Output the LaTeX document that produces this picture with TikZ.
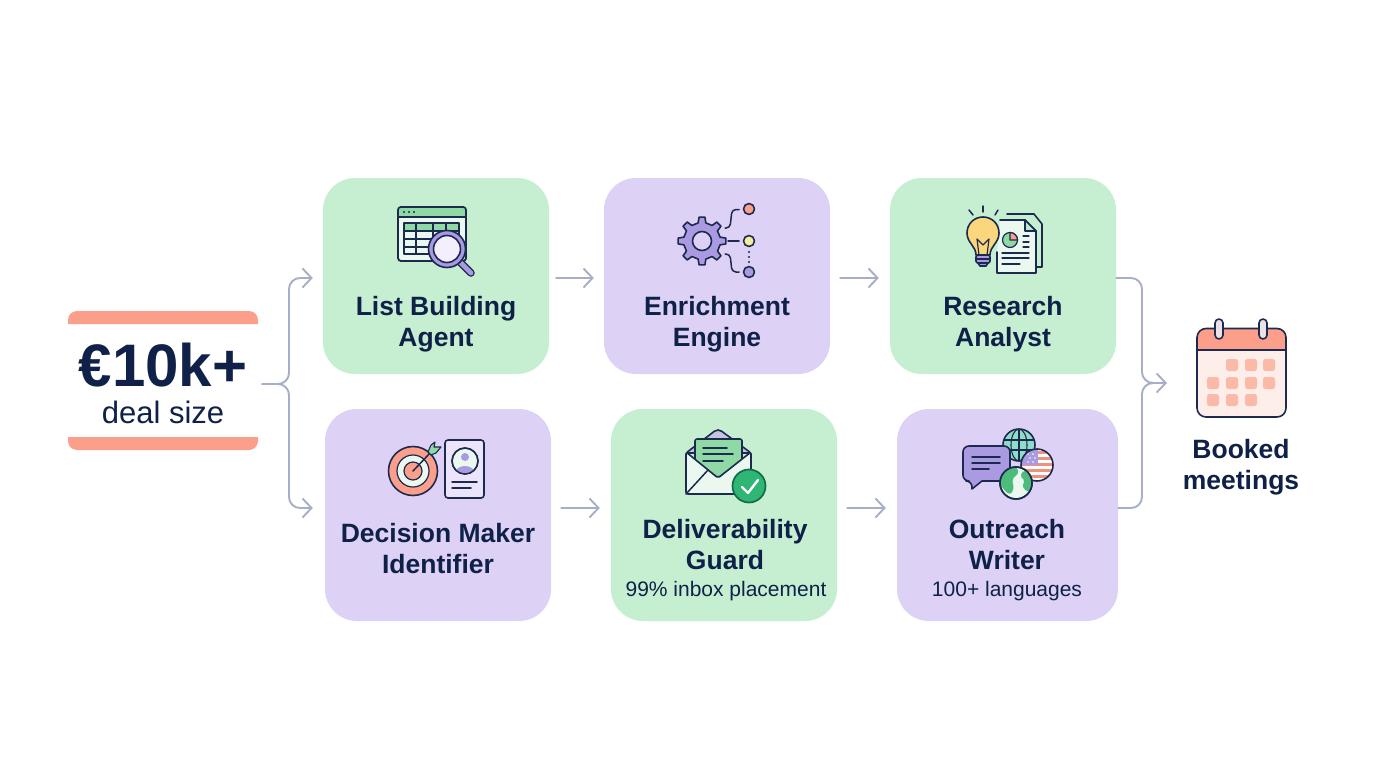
\documentclass[tikz,border=0pt]{standalone}
\usepackage{fontspec}
\setmainfont{Liberation Sans}
\usetikzlibrary{arrows.meta}
\definecolor{navy}{HTML}{0F2148}
\definecolor{ink}{HTML}{1B2A4E}
\definecolor{cgreen}{HTML}{C6EFD2}
\definecolor{cpurple}{HTML}{DDD2F6}
\definecolor{salmon}{HTML}{FB9F8B}
\definecolor{calbody}{HTML}{FDEEE9}
\definecolor{calcell}{HTML}{FBB9A8}
\definecolor{conncol}{HTML}{A6AEC8}
\definecolor{igreen}{HTML}{8FD9A5}
\definecolor{dgreen}{HTML}{4DBB7A}
\definecolor{ipurple}{HTML}{A99AE2}
\definecolor{pale}{HTML}{EAF8F0}
\definecolor{bulb}{HTML}{FBD67D}
\definecolor{dot2}{HTML}{F3EE9B}
\definecolor{flap}{HTML}{C5C3E0}
\definecolor{teal}{HTML}{8FDCC8}
\definecolor{flagred}{HTML}{F0907F}
\definecolor{okfill}{HTML}{2FB574}
\definecolor{okline}{HTML}{146B4A}
\tikzset{
  card/.style={minimum width=#1,inner sep=0pt,rounded corners=32pt},
  gcard/.style={card=226pt,fill=cgreen},
  pcard/.style={card=226pt,fill=cpurple},
  title/.style={text=navy,align=center,font=\bfseries\fontsize{26.5}{31}\selectfont,inner sep=0pt},
  sub/.style={text=navy,font=\fontsize{21}{25}\selectfont,inner sep=0pt},
  conn/.style={draw=conncol,line width=1.9pt,line cap=round,-{Straight Barb[length=9pt,width=19pt]}},
  wire/.style={draw=conncol,line width=1.9pt,line cap=round},
  ic/.style={draw=ink,line width=1.6pt,line join=round,line cap=round},
  ln/.style={draw=ink,line width=1.5pt,line cap=round}
}
\begin{document}
\begin{tikzpicture}[x=1pt,y=-1pt]
\useasboundingbox (0,0) rectangle (1376,768);
\fill[white] (0,0) rectangle (1376,768);
% cards
\node[gcard,minimum height=196pt] (A) at (436,276) {};
\node[pcard,minimum height=196pt] (B) at (717,276) {};
\node[gcard,minimum height=196pt] (C) at (1003,276) {};
\node[pcard,minimum height=212pt] (D) at (438,515) {};
\node[gcard,minimum height=212pt] (E) at (724,515) {};
\node[card=221pt,fill=cpurple,minimum height=212pt] (F) at (1007.5,515) {};
% deal
\node[minimum width=190pt,minimum height=146pt,inner sep=0pt] (deal) at (163,384) {};
\fill[salmon] (68,324) [rounded corners=9pt] -- (68,311) -- (258,311) [sharp corners] -- (258,324) -- cycle;
\fill[salmon] (68,437) [rounded corners=9pt] -- (68,450) -- (258,450) [sharp corners] -- (258,437) -- cycle;
\node[text=navy,font=\bfseries\fontsize{60}{64}\selectfont,inner sep=0pt] (dealv) at (163,365) {€10k+};
\node[text=navy,font=\fontsize{31}{34}\selectfont,inner sep=0pt] (dealt) at (163,412) {deal size};
% labels
\node[title] (tA) at (436,324.5) {List Building\\Agent};
\node[title] (tB) at (717,324.5) {Enrichment\\Engine};
\node[title] (tC) at (1003,324.5) {Research\\Analyst};
\node[title] (tD) at (438,549) {Decision Maker\\Identifier};
\node[title] (tE) at (725,545) {Deliverability\\Guard};
\node[sub] (sE) at (726,591) {99\% inbox placement};
\node[title] (tF) at (1007,545) {Outreach\\Writer};
\node[sub] (sF) at (1007,591) {100+ languages};
\node[title] (tG) at (1241,467) {Booked\\meetings};
% calendar
\node[minimum width=89pt,minimum height=89pt,inner sep=0pt] (cal) at (1241.5,373) {};
\fill[calbody,rounded corners=9pt] (1197,328.5) rectangle (1286,417);
\fill[salmon] (1197,350) [rounded corners=9pt] -- (1197,328.5) -- (1286,328.5) [sharp corners] -- (1286,350) -- cycle;
\draw[ic,rounded corners=9pt] (1197,328.5) rectangle (1286,417);
\draw[ic] (1197,350) -- (1286,350);
\foreach \cx in {1219,1263} \draw[ic,fill=calbody!70!flap,rounded corners=4pt] (\cx-4,319) rectangle (\cx+4,339);
\foreach \cx/\cy in {1232/365,1251/365,1269/365,1213/383,1232/383,1251/383,1269/383,1213/400,1232/400,1251/400}
  \fill[calcell,rounded corners=2.5pt] (\cx-6,\cy-6) rectangle (\cx+6,\cy+6);
% connectors
\draw[conn,rounded corners=11pt,shorten <=4pt,shorten >=10pt] (deal.east) -- (289,384) |- ([yshift=-2pt]A.west);
\draw[conn,rounded corners=11pt,shorten <=4pt,shorten >=12pt] (deal.east) -- (289,384) |- ([yshift=7pt]D.west);
\draw[conn,shorten <=7pt,shorten >=10pt] ([yshift=-2pt]A.east) -- ([yshift=-2pt]B.west);
\draw[conn,shorten <=10pt,shorten >=11pt] ([yshift=-2pt]B.east) -- ([yshift=-2pt]C.west);
\draw[conn,shorten <=10pt,shorten >=11pt] ([yshift=7pt]D.east) -- ([yshift=7pt]E.west);
\draw[conn,shorten <=10pt,shorten >=11pt] ([yshift=7pt]E.east) -- ([yshift=7pt]F.west);
\draw[wire,rounded corners=11pt] ([yshift=7pt]F.east) -| (1142,383) -- (1160,383);
\draw[conn,rounded corners=11pt,shorten >=30pt] ([yshift=-2pt]C.east) -| (1142,383) -- (1197,383);
% icon: list building
\draw[ic,fill=pale,rounded corners=3pt] (398,207) rectangle (466,261);
\fill[igreen,rounded corners=2pt] (398,207) rectangle (466,217);
\draw[ic,rounded corners=3pt] (398,207) rectangle (466,261);
\draw[ic] (398,217) -- (466,217);
\foreach \dx in {404,409,414} \fill[ink] (\dx,212) circle[radius=1.1pt];
\fill[igreen] (404,223) rectangle (459,231);
\draw[ic,line width=1.2pt] (404,223) rectangle (459,254);
\foreach \yy in {231,239,247} \draw[ic,line width=1.2pt] (404,\yy) -- (459,\yy);
\foreach \xx in {416,433,446} \draw[ic,line width=1.2pt] (\xx,223) -- (\xx,254);
\draw[draw=ink,line width=7.5pt,line cap=round] (458,260) -- (471,273);
\draw[draw=ipurple,line width=4.8pt,line cap=round] (458,260) -- (471,273);
\draw[ic,fill=ipurple] (447,249) circle[radius=18.5pt];
\draw[ic,fill=cpurple!35!white] (447,249) circle[radius=13.5pt];
% icon: enrichment
\begin{scope}[shift={(702,241)}]
\draw[ic,fill=ipurple] (-34:18.5) \foreach \a in {0,45,...,315} { -- ({\a-12}:18.5) -- ({\a-7}:24) -- ({\a+7}:24) -- ({\a+12}:18.5) -- ({\a+33}:18.5) } -- cycle;
\draw[ic,fill=cpurple] (0,0) circle[radius=9.5pt];
\end{scope}
\draw[ln,rounded corners=4pt] (725,228) -- (730,228) -- (732,209.5) -- (739,209.5);
\draw[ln] (728,241) -- (739,241);
\draw[ln,rounded corners=4pt] (725,254) -- (730,254) -- (732,272) -- (739,272);
\draw[ic,fill=salmon] (749,209) circle[radius=5.5pt];
\draw[ic,fill=dot2] (749,241) circle[radius=5.5pt];
\draw[ic,fill=ipurple] (749,272) circle[radius=5.5pt];
\foreach \yy in {252,257,262} \fill[ink] (749,\yy) circle[radius=1.1pt];
% icon: research
\draw[ic] (1007,214) -- (1034,214) -- (1042,224) -- (1042,267) -- (1037,267);
\draw[ic,fill=pale] (1000,220) -- (1025,220) -- (1036,231) -- (1036,273) -- (997,273) -- (997,252);
\draw[ic,fill=igreen!60!white] (1025,220) -- (1025,231) -- (1036,231) -- cycle;
\draw[ic,fill=igreen,line width=1.2pt] (1010,240) circle[radius=7.5pt];
\draw[ic,fill=salmon,line width=1.2pt] (1010,240) -- (1010,232.5) arc[start angle=90,end angle=0,radius=7.5pt] -- cycle;
\foreach \yy/\xa/\xb in {236/1023/1029,242/1023/1029,247/1023/1029,253/1002/1029,258/1002/1029,264/1002/1020}
  \draw[ln,line width=1.2pt] (\xa,\yy) -- (\xb,\yy);
\draw[ic,fill=bulb] (976,255) .. controls (976,246) and (967,243) .. (967,233) .. controls (967,224) and (974,217) .. (983,217) .. controls (992,217) and (999,224) .. (999,233) .. controls (999,243) and (990,246) .. (990,255) -- cycle;
\draw[ic,line width=1.2pt] (979,255) -- (977,239) -- (983,245) -- (989,239) -- (987,255);
\draw[ic,fill=ipurple,rounded corners=2pt] (976,255) rectangle (990,263);
\draw[ic,fill=ipurple] (978,263) -- (988,263) -- (986,266) -- (980,266) -- cycle;
\draw[ic,line width=1.2pt] (976,259) -- (990,259);
\draw[ln] (983,206) -- (983,212);
\draw[ln] (969,210) -- (973,215);
\draw[ln] (998,210) -- (995,215);
% icon: decision maker
\draw[ic,fill=salmon] (413,471) circle[radius=24.5pt];
\draw[ic,line width=1.2pt,fill=pale] (413,471) circle[radius=16pt];
\draw[ic,line width=1.2pt,fill=salmon] (413,471) circle[radius=9pt];
\draw[ln] (413,471) -- (431,452);
\draw[ic,line width=1.1pt,fill=igreen] (428,452) -- (431,445) -- (435,442) -- (434,447) -- (441,447) -- (436,453) -- (431,455) -- cycle;
\draw[ic,fill=cpurple!60!white,rounded corners=3pt] (445,440) rectangle (484,498);
\draw[ic,fill=pale] (465,461) circle[radius=13pt];
\begin{scope}
\clip (465,461) circle[radius=12.3pt];
\fill[ipurple] (465,473.5) ellipse[x radius=10pt,y radius=7.5pt];
\end{scope}
\fill[ipurple] (465,457) circle[radius=4pt];
\draw[ic,line width=1.2pt] (465,461) circle[radius=13pt];
\draw[ln] (452,482) -- (477,482);
\draw[ln] (452,488) -- (471,488);
% icon: deliverability
\draw[ic,fill=flap,rounded corners=2pt] (686,453) -- (716,430) -- (720,430) -- (751,453) -- cycle;
\draw[ic,fill=igreen,rounded corners=2pt] (695,439) -- (742,439) -- (742,462) -- (718,478) -- (695,462) -- cycle;
\foreach \xb/\yy in {727/448,733/454,723/461} \draw[ln] (703,\yy) -- (\xb,\yy);
\draw[ic,fill=pale,rounded corners=2pt] (686,452) -- (718,478) -- (751,452) -- (751,494) -- (686,494) -- cycle;
\draw[ln] (686,494) -- (708,470);
\draw[draw=okline,line width=1.7pt,fill=okfill] (749,486) circle[radius=16.5pt];
\draw[draw=white,line width=2.4pt,line cap=round,line join=round] (742,487) -- (748,493) -- (758,480);
% icon: outreach
\draw[ic,fill=teal] (1019,445) circle[radius=16pt];
\begin{scope}
\clip (1019,445) circle[radius=16pt];
\draw[ic,line width=1.1pt] (1003,440) -- (1035,440) (1003,450) -- (1035,450) (1019,429) -- (1019,461);
\draw[ic,line width=1.1pt] (1019,445) ellipse[x radius=8pt,y radius=16pt];
\end{scope}
\draw[ic,fill=ipurple,rounded corners=6pt] (1010,446) -- (963,446) -- (963,481) -- (972,481) [sharp corners] -- (972,489) -- (982,481) [rounded corners=6pt] -- (1010,481) -- cycle;
\draw[ln] (972,457) -- (1000,457);
\draw[ln] (972,463) -- (1000,463);
\draw[ln] (972,469) -- (989,469);
\begin{scope}
\clip (1037,465) circle[radius=16pt];
\fill[white] (1021,449) rectangle (1053,481);
\foreach \yy in {451,457,463,469,475} \fill[flagred] (1021,\yy) rectangle (1053,\yy+3);
\fill[ipurple] (1021,449) rectangle (1038,465);
\foreach \dx/\dy in {1028/454,1033/454,1030/458,1035/458,1028/462,1033/462} \fill[white] (\dx,\dy) circle[radius=.8pt];
\end{scope}
\draw[ic] (1037,465) circle[radius=16pt];
\draw[ic,fill=pale] (1016,483) circle[radius=16pt];
\begin{scope}
\clip (1016,483) circle[radius=15.3pt];
\fill[dgreen,rounded corners=3pt] (1000,472) -- (1016,466) -- (1019,473) -- (1012,479) -- (1014,489) -- (1010,495) -- (1004,490) -- (1000,484) -- cycle;
\fill[dgreen,rounded corners=2pt] (1024,470) -- (1033,475) -- (1033,489) -- (1027,492) -- (1022,486) -- (1025,481) -- (1020,476) -- cycle;
\end{scope}
\draw[ic] (1016,483) circle[radius=16pt];
\end{tikzpicture}
\end{document}
